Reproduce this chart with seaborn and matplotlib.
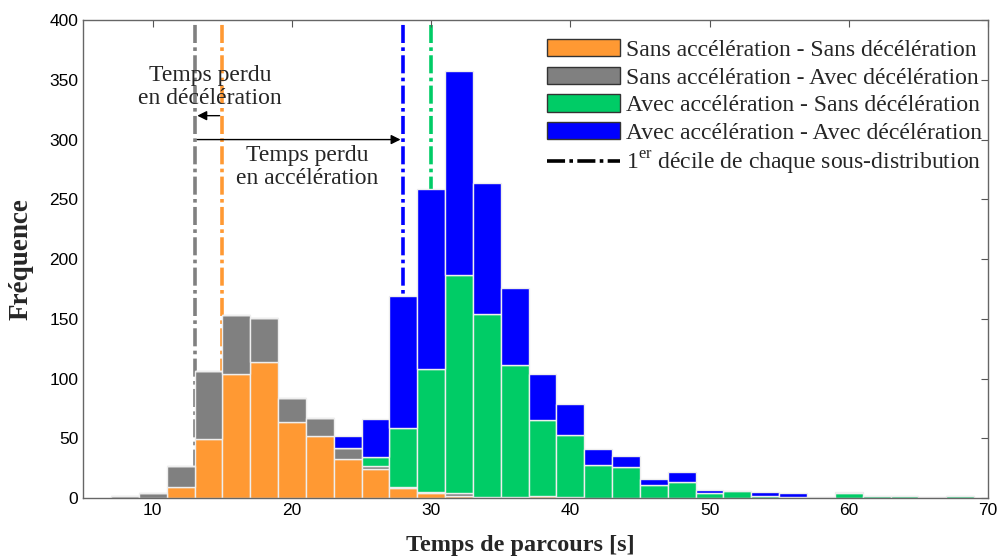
import matplotlib
matplotlib.use("Agg")
import matplotlib.pyplot as plt
from matplotlib.patches import Patch
from matplotlib.lines import Line2D
import numpy as np
import pandas as pd
import seaborn as sns

# bin edges (2 s wide) and bin centres
bin_edges = list(range(7, 70, 2))
bin_centers = [e + 1 for e in bin_edges[:-1]]

# counts per bin for each sub-distribution
sans_sans = [0, 0, 9, 49, 104, 114, 64, 52, 33, 24, 8, 4, 2, 1, 1, 2, 1,
             0, 0, 0, 0, 0, 0, 0, 0, 0, 0, 0, 0, 0, 0]
sans_avec = [2, 4, 18, 57, 49, 37, 20, 15, 9, 3, 1, 1, 2, 0, 0, 0, 0,
             0, 0, 0, 0, 0, 0, 0, 0, 0, 0, 0, 0, 0, 0]
avec_sans = [0, 0, 0, 0, 0, 0, 0, 0, 0, 7, 50, 103, 183, 153, 110, 63, 52,
             28, 26, 11, 13, 4, 6, 2, 1, 1, 4, 2, 2, 1, 2]
avec_avec = [0, 0, 0, 0, 0, 0, 0, 0, 10, 32, 110, 151, 170, 110, 65, 39, 26,
             13, 9, 5, 9, 3, 0, 3, 3, 0, 1, 0, 0, 0, 0]

labels = ["Sans accélération - Sans décélération",
          "Sans accélération - Avec décélération",
          "Avec accélération - Sans décélération",
          "Avec accélération - Avec décélération"]
colors = ["#FF9933", "#808080", "#00CC66", "#0000FF"]

# first decile of each sub-distribution
deciles = [15, 13, 30, 28]

rows = []
for lab, counts in zip(labels, [sans_sans, sans_avec, avec_sans, avec_avec]):
    for c, n in zip(bin_centers, counts):
        rows.append({"temps": c, "freq": n, "cat": lab})
df = pd.DataFrame(rows)

sns.set_style("white")
plt.rcParams["font.family"] = ["Liberation Serif", "DejaVu Serif"]
plt.rcParams["mathtext.fontset"] = "custom"
plt.rcParams["mathtext.rm"] = "Liberation Serif"

fig = plt.figure(figsize=(10.02, 5.58), dpi=100)
ax = fig.add_axes([0.083, 0.1075, 0.903, 0.8565])

palette = dict(zip(labels, colors))
sns.histplot(data=df, x="temps", weights="freq", hue="cat",
             hue_order=labels[::-1], palette=palette, multiple="stack",
             bins=bin_edges, alpha=1, edgecolor="#eeeeee", linewidth=1,
             legend=False, ax=ax)

dash = (0, (5, 1.2, 1, 1.2))
for d, col in zip(deciles, colors):
    ax.axvline(d, color=col, linestyle=dash, linewidth=2.6, zorder=0.5)

# lost-time arrows and texts
ax.annotate("", xy=(13, 320), xytext=(15, 320),
            arrowprops=dict(arrowstyle="-|>", color="black", lw=1, mutation_scale=14))
ax.annotate("", xy=(28, 300), xytext=(13, 300),
            arrowprops=dict(arrowstyle="-|>", color="black", lw=1, mutation_scale=14))
ax.text(14.1, 344, "Temps perdu\nen décélération", ha="center", va="center",
        fontsize=17, linespacing=1.15)
ax.text(21.1, 277, "Temps perdu\nen accélération", ha="center", va="center",
        fontsize=17, linespacing=1.15)

ax.set_xlim(5, 70)
ax.set_ylim(0, 400)
ax.set_xticks(range(10, 71, 10))
ax.set_yticks(range(0, 401, 50))
ax.tick_params(direction="in", length=5, top=True, right=True,
               color="#555555", labelsize=12.5, labelcolor="black")
for lab in ax.get_xticklabels() + ax.get_yticklabels():
    lab.set_family("Liberation Sans")
for s in ax.spines.values():
    s.set_color("#666666")
    s.set_linewidth(1)

ax.set_xlabel("Temps de parcours [s]", fontsize=17.5, fontweight="bold")
ax.set_ylabel("Fréquence", fontsize=19.5, fontweight="bold")
ax.xaxis.set_label_coords(0.483, -0.078)
ax.yaxis.set_label_coords(-0.055, 0.5)

handles = [Patch(facecolor=c, edgecolor="#333333", linewidth=1) for c in colors]
handles.append(Line2D([0], [0], color="black", linestyle=dash, linewidth=2.6))
leg_labels = labels + ["1$^{\\mathrm{er}}$ décile de chaque sous-distribution"]
ax.legend(handles, leg_labels, loc="upper right", frameon=False, fontsize=17,
          handlelength=3.1, handleheight=0.76, handletextpad=0.25,
          labelspacing=0.24, borderaxespad=0.3, bbox_to_anchor=(1.012, 0.995))

fig.savefig("out.png", dpi=100)
